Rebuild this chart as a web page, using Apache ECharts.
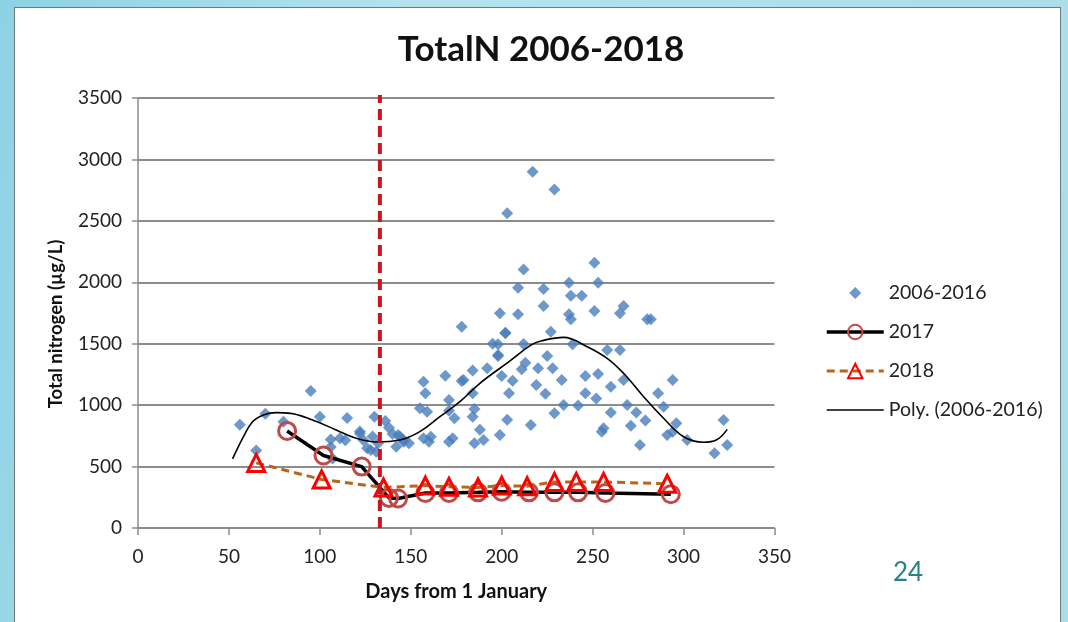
<!DOCTYPE html>
<html>
<head>
<meta charset="utf-8">
<script src="https://cdn.jsdelivr.net/npm/echarts@6/dist/echarts.min.js"></script>
<style>
  html, body { margin: 0; padding: 0; }
  body {
    width: 1068px; height: 622px; overflow: hidden; position: relative;
    background: linear-gradient(100deg, #8dd2e3 0%, #b4e3ee 35%, #a9dde9 100%);
  }
  #panel {
    position: absolute; left: 14px; top: 7px; width: 1047px; height: 622px;
    background: #ffffff; border: 1px solid #6d7a7e; box-sizing: border-box;
  }
  #chart { position: absolute; left: 0; top: 0; width: 1068px; height: 622px; }
</style>
</head>
<body>
<div id="panel"></div>
<div id="chart"></div>
<script>
// Total nitrogen (µg/L) by day of year
const titleText = 'TotalN 2006-2018';
const xTicks = { min: 0, max: 350, interval: 50 };
const yTicks = { min: 0, max: 3500, interval: 500 };
const cutoffDay = 133;

// individual samples 2006-2016: [day, TN]
const samples0616 = [
  [56, 840], [65, 630], [70, 930], [80, 865], [95, 1115], [100, 905], [115, 895], [130, 905],
  [106, 720], [106, 660], [107, 565], [111, 730], [114, 715], [122, 785], [124, 715], [126, 650],
  [129, 745], [131, 620], [128, 635], [132, 690], [122, 770],
  [136, 870], [138, 815], [140, 765], [143, 757], [146, 716], [142, 662], [149, 689],
  [144, 743], [146, 703],
  [157, 1191], [158, 1096], [169, 1240], [178, 1196], [184, 1281], [192, 1300],
  [195, 1500], [198, 1495], [198, 1408], [202, 1585], [212, 1498], [213, 1346], [211, 1292],
  [206, 1199], [204, 1096], [200, 1237], [184, 1096], [171, 1042], [171, 955], [185, 968],
  [155, 974], [159, 947], [174, 893], [184, 906], [203, 882], [216, 838], [188, 800],
  [199, 757], [190, 716], [185, 689], [173, 730], [171, 703], [157, 730], [160, 703], [161, 743],
  [217, 2900], [229, 2756], [203, 2561], [212, 2105], [209, 1956], [223, 1945], [237, 1997],
  [238, 1891], [244, 1891], [223, 1807], [237, 1739], [238, 1699], [251, 2159], [253, 1997],
  [251, 1766], [199, 1747], [209, 1739], [178, 1639], [202, 1590], [227, 1598], [239, 1495],
  [198, 1400], [225, 1400], [220, 1300], [228, 1300], [246, 1237], [253, 1253], [258, 1449],
  [233, 1205], [179, 1205],
  [267, 1807], [265, 1747], [280, 1699], [282, 1699], [265, 1449], [267, 1205], [260, 1150],
  [294, 1205], [252, 1055], [286, 1096], [289, 987], [269, 1001], [242, 998], [260, 941],
  [274, 941], [271, 833], [279, 874], [256, 811], [255, 784], [291, 757], [294, 784],
  [296, 852], [276, 676], [302, 716], [219, 1164], [224, 1093], [234, 1001], [229, 934],
  [246, 1096], [322, 879], [317, 608], [324, 676]
];

// 2017 season: [day, TN]
const series2017 = [
  [82, 790], [102, 590], [123, 500], [138, 245], [143, 240], [158, 285], [171, 285],
  [187, 290], [200, 295], [215, 290], [229, 290], [242, 290], [257, 285], [293, 275]
];

// 2018 season: [day, TN]
const series2018 = [
  [65, 530], [101, 395], [135, 330], [158, 345], [171, 335], [187, 330], [200, 345],
  [214, 340], [229, 375], [241, 375], [256, 375], [291, 360]
];

// polynomial trend of the 2006-2016 samples, traced as points
const polyTrend = [
  [52, 562], [58, 743], [63, 865], [69, 920], [76, 939], [84, 933], [96, 879], [109, 798],
  [120, 730], [131, 700], [144, 716], [155, 784], [166, 906], [177, 1028], [188, 1178],
  [204, 1354], [216, 1489], [222, 1524], [234, 1552], [247, 1476], [258, 1381], [267, 1259],
  [278, 1069], [289, 893], [300, 743], [311, 698], [318, 716], [324, 803]
];

const legendNames = ['2006-2016', '2017', '2018', 'Poly. (2006-2016)'];

const font = 'Lato, "Open Sans", sans-serif';
const gridColor = '#8c8c8c';
// small diamond inside an empty 18x18 box so the legend keeps it compact
const diamondIcon = 'path://M-9,-9L-9,-9M0,-6L6,0L0,6L-6,0ZM9,9L9,9';

const chart = echarts.init(document.getElementById('chart'), null, { renderer: 'canvas' });

chart.setOption({
  backgroundColor: 'transparent',
  animation: false,
  title: {
    text: titleText,
    left: 536, top: 27, textAlign: 'center',
    textStyle: { fontFamily: font, fontWeight: 'bold', fontSize: 35, color: '#111' }
  },
  legend: {
    data: [
      { name: legendNames[0], icon: diamondIcon },
      { name: legendNames[1], lineStyle: { width: 3.5 } },
      { name: legendNames[2], lineStyle: { width: 3 } },
      { name: legendNames[3], lineStyle: { width: 1.6 } }
    ],
    orient: 'vertical',
    left: 820, top: 278,
    itemWidth: 57, itemHeight: 18, itemGap: 19,
    symbolKeepAspect: true,
    textStyle: { fontFamily: font, fontSize: 19.5, color: '#222' }
  },
  grid: { left: 138, right: 293.5, top: 98, bottom: 94, containLabel: false },
  xAxis: {
    type: 'value', min: xTicks.min, max: xTicks.max, interval: xTicks.interval,
    name: 'Days from 1 January', nameLocation: 'middle', nameGap: 54,
    nameTextStyle: { fontFamily: font, fontWeight: 'bold', fontSize: 20, color: '#111' },
    axisLine: { lineStyle: { color: gridColor, width: 1.5 } },
    axisTick: { show: true, length: 7, lineStyle: { color: gridColor, width: 1.5 } },
    axisLabel: { fontFamily: font, fontSize: 19, color: '#222', margin: 19 },
    splitLine: { show: false }
  },
  yAxis: {
    type: 'value', min: yTicks.min, max: yTicks.max, interval: yTicks.interval,
    name: 'Total nitrogen (µg/L)', nameLocation: 'middle', nameGap: 72,
    nameTextStyle: {
      fontFamily: font, fontWeight: 'bold', fontSize: 18.5, color: '#111',
      padding: [0, 22, 0, 0]
    },
    axisLine: { show: true, lineStyle: { color: gridColor, width: 1.5 } },
    axisTick: { show: true, length: 6, lineStyle: { color: gridColor, width: 1.5 } },
    axisLabel: {
      fontFamily: font, fontSize: 19, color: '#222', margin: 16,
      formatter: (v) => String(v)
    },
    splitLine: { show: true, lineStyle: { color: gridColor, width: 2 } }
  },
  graphic: [{
    type: 'text', left: 893, top: 560,
    style: { text: '24', font: '26px Lato, "Open Sans", sans-serif', fill: '#2a7f8c' }
  }],
  series: [
    {
      name: '2006-2016', type: 'scatter', data: samples0616,
      symbol: 'diamond', symbolSize: 12,
      itemStyle: { color: '#4a7ebb' }, z: 2
    },
    {
      name: 'Poly. (2006-2016)', type: 'line', data: polyTrend,
      smooth: 0.4, symbol: 'none', showSymbol: false,
      lineStyle: { color: '#000', width: 1.6 },
      itemStyle: { color: 'rgba(0,0,0,0)', borderWidth: 0 }, z: 3
    },
    {
      name: '2017', type: 'line', data: series2017,
      symbol: 'circle', symbolSize: 17,
      lineStyle: { color: '#000', width: 3.5 },
      itemStyle: { color: 'rgba(255,255,255,0)', borderColor: '#be4b48', borderWidth: 3 },
      z: 4
    },
    {
      name: '2018', type: 'line', data: series2018,
      symbol: 'triangle', symbolSize: 17,
      lineStyle: { color: '#b8651b', width: 3, type: [8, 5] },
      itemStyle: { color: 'rgba(255,255,255,0)', borderColor: '#ff0000', borderWidth: 3 },
      z: 5
    },
    {
      name: 'cutoff', type: 'line',
      data: [[cutoffDay, yTicks.min], [cutoffDay, 3525]],
      clip: false, symbol: 'none', silent: true,
      lineStyle: { color: '#c8161d', width: 4, type: [11, 6] },
      z: 6
    }
  ]
});
</script>
</body>
</html>
